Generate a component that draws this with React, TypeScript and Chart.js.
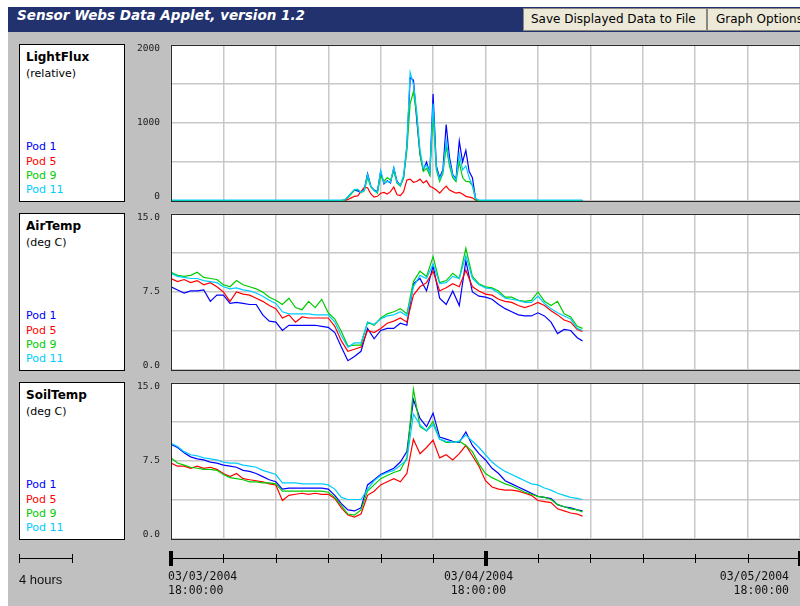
import React, { useEffect, useRef } from "react";
import { Chart, registerables } from "chart.js";
Chart.register(...registerables);

// ---------------- data ----------------
const podNames = ["Pod 1", "Pod 5", "Pod 9", "Pod 11"];
const podColors = ["#0000ff", "#ff0000", "#00cc00", "#00ccff"];

// hours since 03/03/2004 18:00:00
const lightHours = [0, 2, 4, 6, 8, 10, 12, 13, 13.25, 13.5, 13.75, 14, 14.25, 14.5, 14.75, 15, 15.25, 15.5, 15.75, 16, 16.25, 16.5, 16.75, 17, 17.25, 17.5, 17.75, 18, 18.25, 18.5, 18.75, 19, 19.25, 19.5, 19.75, 20, 20.25, 20.5, 20.75, 21, 21.25, 21.5, 21.75, 22, 22.25, 22.5, 22.75, 23, 23.25, 23.5, 24, 26, 28, 30, 31.4];
const lightPod1 = [5, 5, 5, 5, 5, 5, 5, 5, 10, 50, 100, 140, 130, 110, 150, 350, 190, 140, 120, 380, 220, 260, 230, 420, 250, 200, 300, 700, 1580, 1550, 1050, 600, 400, 500, 350, 1370, 450, 300, 400, 980, 560, 340, 280, 770, 500, 650, 380, 300, 20, 5, 5, 5, 5, 5, 5];
const lightPod5 = [3, 3, 3, 3, 3, 3, 3, 3, 5, 20, 40, 60, 65, 120, 175, 170, 90, 50, 60, 100, 110, 90, 120, 180, 80, 70, 120, 270, 280, 240, 250, 280, 230, 260, 190, 170, 140, 100, 150, 190, 140, 120, 100, 110, 90, 60, 50, 40, 10, 3, 3, 3, 3, 3, 3];
const lightPod9 = [5, 5, 5, 5, 5, 5, 5, 5, 10, 45, 90, 140, 150, 110, 130, 300, 180, 140, 100, 320, 250, 300, 270, 380, 230, 190, 300, 650, 1250, 1400, 1100, 600, 380, 420, 330, 1100, 400, 250, 350, 700, 450, 300, 250, 500, 300, 250, 250, 200, 15, 5, 5, 5, 5, 5, 5];
const lightPod11 = [12, 12, 12, 12, 12, 12, 12, 12, 15, 55, 100, 150, 150, 110, 140, 340, 190, 130, 110, 390, 230, 250, 240, 430, 240, 200, 330, 720, 1650, 1500, 1150, 660, 420, 460, 360, 1250, 420, 280, 380, 770, 500, 330, 270, 600, 400, 450, 300, 200, 30, 12, 12, 12, 12, 12, 12];

const tempHours = [0, 0.5, 1, 1.5, 2, 2.5, 3, 3.5, 4, 4.5, 5, 5.5, 6, 6.5, 7, 7.5, 8, 8.5, 9, 9.5, 10, 10.5, 11, 11.5, 12, 12.5, 13, 13.5, 14, 14.5, 15, 15.5, 16, 16.5, 17, 17.5, 18, 18.5, 19, 19.5, 20, 20.5, 21, 21.5, 22, 22.5, 23, 23.5, 24, 24.5, 25, 25.5, 26, 26.5, 27, 27.5, 28, 28.5, 29, 29.5, 30, 30.5, 31, 31.4];

const airPod1 = [8.0, 7.7, 7.4, 7.6, 7.6, 7.7, 6.6, 7.2, 7.2, 6.4, 6.5, 6.4, 6.3, 6.3, 5.3, 4.7, 4.6, 3.8, 4.3, 4.3, 4.3, 4.3, 4.3, 4.2, 4.1, 3.6, 2.2, 0.9, 1.3, 1.8, 4.0, 3.0, 3.8, 4.0, 4.0, 4.5, 4.3, 8.3, 8.8, 7.6, 10.0, 6.9, 6.3, 7.6, 6.2, 10.5, 7.5, 7.1, 7.0, 6.8, 6.3, 5.9, 5.6, 5.3, 5.2, 5.2, 5.5, 5.2, 4.6, 3.5, 3.9, 3.8, 3.1, 2.8];
const airPod5 = [8.8, 8.5, 8.7, 8.4, 8.6, 8.2, 8.4, 8.0, 7.5, 6.6, 7.5, 7.3, 7.2, 6.9, 6.6, 6.2, 5.9, 5.0, 5.3, 4.6, 5.1, 5.0, 5.0, 5.0, 5.0, 4.2, 2.8, 1.8, 2.0, 2.2, 3.8, 3.6, 4.0, 4.5, 4.7, 5.0, 4.6, 7.2, 8.0, 8.4, 9.5, 7.6, 7.9, 8.3, 8.0, 9.6, 8.0, 7.6, 7.3, 7.2, 6.8, 6.6, 6.5, 6.2, 6.0, 6.2, 6.5, 6.2, 5.7, 5.3, 4.8, 4.6, 3.9, 3.7];
const airPod9 = [9.4, 9.1, 9.0, 9.1, 9.4, 8.9, 8.8, 8.7, 8.2, 8.0, 8.6, 8.2, 8.0, 7.8, 7.5, 7.0, 6.7, 6.3, 6.9, 6.0, 5.8, 6.6, 6.0, 6.8, 5.5, 4.9, 3.7, 2.3, 2.4, 2.4, 4.6, 4.3, 5.0, 5.4, 5.6, 5.9, 5.4, 8.5, 9.5, 9.0, 10.9, 8.4, 8.6, 9.3, 8.8, 11.7, 9.0, 8.3, 8.0, 7.9, 7.6, 7.0, 7.0, 6.7, 6.6, 6.7, 7.5, 6.6, 6.2, 6.6, 5.4, 5.1, 4.2, 4.0];
const airPod11 = [9.3, 9.0, 8.9, 8.8, 8.8, 8.6, 8.5, 8.4, 8.0, 7.8, 7.9, 7.7, 7.6, 7.4, 7.1, 6.7, 6.4, 5.6, 5.4, 5.4, 5.4, 5.4, 5.3, 5.3, 5.3, 4.6, 3.3, 2.2, 2.6, 2.6, 4.6, 4.4, 4.9, 5.2, 5.3, 5.6, 5.2, 8.0, 9.1, 8.8, 10.2, 8.3, 8.4, 9.0, 8.8, 11.0, 8.8, 8.2, 7.9, 7.8, 7.4, 6.9, 6.8, 6.7, 6.5, 6.5, 7.1, 6.4, 5.9, 5.5, 5.2, 4.9, 4.0, 3.8];

const soilPod1 = [9.1, 8.8, 8.3, 7.9, 7.7, 7.6, 7.4, 7.3, 7.1, 7.0, 6.9, 6.6, 6.5, 6.3, 6.0, 5.7, 5.5, 4.8, 4.9, 4.9, 4.9, 4.9, 4.9, 4.9, 4.8, 4.2, 3.4, 2.8, 2.7, 3.0, 5.2, 5.7, 6.2, 6.5, 6.8, 7.4, 8.4, 13.4, 11.6, 10.8, 12.1, 9.8, 9.6, 9.4, 9.3, 10.3, 9.0, 8.2, 7.6, 6.8, 6.3, 5.6, 5.3, 5.0, 4.7, 4.4, 4.1, 4.0, 3.9, 3.3, 3.1, 3.0, 2.8, 2.7];
const soilPod5 = [7.3, 7.0, 7.0, 6.8, 7.0, 6.8, 6.9, 6.7, 6.3, 6.0, 6.3, 5.8, 5.7, 5.6, 5.5, 5.3, 5.2, 3.7, 4.2, 4.3, 4.4, 4.3, 4.4, 4.3, 4.3, 3.9, 3.0, 2.3, 2.1, 2.4, 4.2, 4.6, 5.2, 5.5, 5.8, 5.5, 6.3, 9.6, 8.2, 8.8, 9.5, 7.8, 8.1, 7.6, 8.2, 9.0, 8.0, 7.0, 5.6, 5.0, 4.8, 4.7, 4.7, 4.6, 4.4, 4.2, 3.7, 3.6, 3.5, 2.9, 2.7, 2.5, 2.4, 2.2];
const soilPod9 = [7.8, 7.3, 7.1, 6.9, 6.8, 6.7, 6.7, 6.6, 6.2, 5.9, 5.8, 5.7, 5.5, 5.5, 5.4, 5.4, 5.3, 4.6, 4.6, 4.6, 4.6, 4.6, 4.6, 4.6, 4.5, 4.0, 3.2, 2.4, 2.3, 2.8, 4.6, 5.2, 5.8, 6.1, 6.4, 6.6, 7.8, 14.4, 10.8, 10.4, 11.3, 9.6, 9.3, 9.3, 9.4, 9.0, 8.4, 7.2, 6.3, 5.9, 5.6, 5.3, 5.1, 4.8, 4.5, 4.3, 4.1, 4.0, 3.8, 3.3, 3.1, 2.9, 2.8, 2.6];
const soilPod11 = [9.2, 8.9, 8.4, 8.1, 8.0, 7.8, 7.7, 7.6, 7.4, 7.3, 7.3, 7.1, 7.0, 6.9, 6.6, 6.4, 6.2, 5.4, 5.4, 5.4, 5.3, 5.3, 5.3, 5.3, 5.2, 4.8, 4.0, 3.8, 3.8, 3.8, 4.8, 5.6, 6.1, 6.4, 6.6, 7.1, 7.6, 12.0, 11.0, 10.4, 11.0, 9.6, 9.4, 9.3, 9.4, 10.0, 9.4, 8.8, 8.1, 7.4, 6.9, 6.5, 6.2, 5.9, 5.6, 5.3, 5.2, 4.9, 4.7, 4.4, 4.2, 4.0, 3.9, 3.8];

const lightYLabelValues = [0, 1000, 2000];
const lightYLabelTexts = ["0", "1000", "2000"];
const tempYLabelValues = [0, 7.5, 15];
const tempYLabelTexts = ["0.0", "7.5", "15.0"];

const timelineTickHours = [0, 4, 8, 12, 16, 20, 24, 28, 32, 36, 40, 44, 48];
const timelineMajorHours = [0, 24, 48];
const timelineDates = ["03/03/2004", "03/04/2004", "03/05/2004"];
const timelineTimes = ["18:00:00", "18:00:00", "18:00:00"];
const scaleBarHours = 4;
const scaleBarLabel = "4 hours";

// ---------------- helpers ----------------
const X_MAX = 48;
const GRID = { color: "#c8c8c8", lineWidth: 1.5, drawTicks: false };

const plotFramePlugin = {
  id: "plotFrame",
  beforeDraw(chart: any) {
    const { ctx, chartArea: a } = chart;
    ctx.save();
    ctx.fillStyle = "#ffffff";
    ctx.fillRect(a.left, a.top, a.right - a.left, a.bottom - a.top);
    ctx.restore();
  },
  afterDraw(chart: any) {
    const { ctx, chartArea: a } = chart;
    ctx.save();
    ctx.strokeStyle = "#2a2a2a";
    ctx.lineWidth = 1;
    ctx.strokeRect(a.left + 0.5, a.top + 0.5, a.right - a.left, a.bottom - a.top);
    ctx.restore();
  },
};

function makeYLabelPlugin(values: number[], texts: string[]) {
  return {
    id: "yLabelsInline",
    afterDraw(chart: any) {
      const { ctx, chartArea: a } = chart;
      const y = chart.scales.y;
      ctx.save();
      ctx.font = '9.5px "DejaVu Sans Mono"';
      ctx.fillStyle = "#202020";
      ctx.textAlign = "right";
      ctx.textBaseline = "middle";
      y.ticks.forEach((t: any) => {
        const idx = values.findIndex((v) => Math.abs(v - t.value) < 1e-6);
        if (idx < 0) return;
        let py = y.getPixelForValue(t.value);
        py = Math.min(Math.max(py, a.top + 4), a.bottom - 4);
        ctx.fillText(texts[idx], a.left - 11, py);
      });
      ctx.restore();
    },
  };
}

type PanelProps = {
  top: number;
  title: string;
  unit: string;
  hours: number[];
  series: number[][];
  yMax: number;
  yStep: number;
  labelValues: number[];
  labelTexts: string[];
};

const textFont = '"DejaVu Sans", sans-serif';

function Panel(p: PanelProps) {
  const ref = useRef<HTMLCanvasElement | null>(null);
  useEffect(() => {
    if (!ref.current) return;
    const datasets = p.series.map((s, i) => ({
      label: podNames[i],
      data: p.hours.map((h, j) => ({ x: h, y: s[j] })),
      borderColor: podColors[i],
      backgroundColor: podColors[i],
      borderWidth: 1.2,
      pointRadius: 0,
      tension: 0,
      fill: false,
      order: p.series.length - 1 - i,
    }));
    const chart = new Chart(ref.current, {
      type: "line",
      data: { datasets } as any,
      options: {
        animation: false,
        responsive: false,
        maintainAspectRatio: false,
        events: [],
        layout: { padding: { top: 6, bottom: 6, left: 0, right: 2 } },
        plugins: { legend: { display: false }, tooltip: { enabled: false } },
        scales: {
          x: {
            type: "linear",
            min: 0,
            max: X_MAX,
            ticks: { display: false, stepSize: 4 },
            grid: GRID,
            border: { display: false },
            afterFit: (s: any) => {
              s.height = 0;
            },
          },
          y: {
            type: "linear",
            min: 0,
            max: p.yMax,
            ticks: { display: false, stepSize: p.yStep },
            grid: GRID,
            border: { display: false },
            afterFit: (s: any) => {
              s.width = 43;
            },
          },
        },
      } as any,
      plugins: [plotFramePlugin, makeYLabelPlugin(p.labelValues, p.labelTexts)],
    });
    return () => chart.destroy();
  }, []);

  const bt = p.top - 1;
  const podOffsets = [103, 118, 132, 146];
  return (
    <>
      <div
        style={{
          position: "absolute",
          left: 19,
          top: bt,
          width: 106,
          height: 158,
          boxSizing: "border-box",
          border: "1px solid #000",
          background: "#fff",
        }}
      />
      <div style={{ position: "absolute", left: 26, top: bt + 13 - 7, lineHeight: "14px", font: `bold 12px ${textFont}`, color: "#000" }}>
        {p.title}
      </div>
      <div style={{ position: "absolute", left: 26, top: bt + 30 - 7, lineHeight: "14px", font: `11px ${textFont}`, color: "#000" }}>
        {p.unit}
      </div>
      {podNames.map((n, i) => (
        <div
          key={n}
          style={{ position: "absolute", left: 26, top: bt + podOffsets[i] - 7, lineHeight: "14px", font: `11px ${textFont}`, color: podColors[i] }}
        >
          {n}
        </div>
      ))}
      <canvas ref={ref} width={674} height={168} style={{ position: "absolute", left: 128, top: p.top - 6, width: 674, height: 168 }} />
    </>
  );
}

function Timeline() {
  const ref = useRef<HTMLCanvasElement | null>(null);
  useEffect(() => {
    if (!ref.current) return;
    const timelinePlugin = {
      id: "timelineInline",
      afterDraw(chart: any) {
        const { ctx } = chart;
        const xs = chart.scales.x;
        const lineY = 13.5;
        ctx.save();
        ctx.strokeStyle = "#000";
        ctx.fillStyle = "#000";
        ctx.lineWidth = 1;
        ctx.beginPath();
        ctx.moveTo(xs.getPixelForValue(0), lineY);
        ctx.lineTo(xs.getPixelForValue(X_MAX), lineY);
        timelineTickHours.forEach((h) => {
          const px = Math.round(xs.getPixelForValue(h)) + 0.5;
          ctx.moveTo(px, lineY - 4.5);
          ctx.lineTo(px, lineY + 4.5);
        });
        const barStart = 11.5;
        const barLen = xs.getPixelForValue(scaleBarHours) - xs.getPixelForValue(0);
        const barEnd = Math.round(barStart + barLen) + 0.5;
        ctx.moveTo(barStart, lineY);
        ctx.lineTo(barEnd, lineY);
        ctx.moveTo(barStart, lineY - 4.5);
        ctx.lineTo(barStart, lineY + 4.5);
        ctx.moveTo(barEnd, lineY - 4.5);
        ctx.lineTo(barEnd, lineY + 4.5);
        ctx.stroke();
        timelineMajorHours.forEach((h) => {
          const px = Math.round(xs.getPixelForValue(h));
          ctx.fillRect(px - 2, lineY - 7.5, 4, 15);
        });
        ctx.font = '11.5px "DejaVu Sans Mono"';
        ctx.fillStyle = "#111";
        ctx.textBaseline = "middle";
        const aligns: CanvasTextAlign[] = ["left", "center", "right"];
        const dx = [-3, -7, -11];
        timelineMajorHours.forEach((h, i) => {
          const px = xs.getPixelForValue(h) + dx[i];
          ctx.textAlign = aligns[i];
          ctx.fillText(timelineDates[i], px, 32);
          ctx.fillText(timelineTimes[i], px, 46);
        });
        ctx.font = '13px "Liberation Sans"';
        ctx.textAlign = "left";
        ctx.fillText(scaleBarLabel, 11, 35);
        ctx.restore();
      },
    };
    const chart = new Chart(ref.current, {
      type: "line",
      data: { datasets: [] },
      options: {
        animation: false,
        responsive: false,
        maintainAspectRatio: false,
        events: [],
        layout: { padding: { top: 0, bottom: 0, left: 163, right: 2 } },
        plugins: { legend: { display: false }, tooltip: { enabled: false } },
        scales: {
          x: {
            type: "linear",
            min: 0,
            max: X_MAX,
            ticks: { display: false },
            grid: { display: false },
            border: { display: false },
            afterFit: (s: any) => {
              s.height = 0;
            },
          },
          y: {
            type: "linear",
            min: 0,
            max: 1,
            ticks: { display: false },
            grid: { display: false },
            border: { display: false },
            afterFit: (s: any) => {
              s.width = 0;
            },
          },
        },
      } as any,
      plugins: [timelinePlugin],
    });
    return () => chart.destroy();
  }, []);
  return <canvas ref={ref} width={794} height={61} style={{ position: "absolute", left: 8, top: 545, width: 794, height: 61 }} />;
}

const buttonStyle: React.CSSProperties = {
  position: "absolute",
  top: 8,
  height: 23,
  boxSizing: "border-box",
  background: "#ece9d8",
  border: "1px solid #8a887c",
  font: `12px ${textFont}`,
  color: "#000",
  lineHeight: "21px",
  whiteSpace: "nowrap",
};

export default function App() {
  return (
    <div style={{ position: "fixed", left: 0, top: 0, width: 800, height: 606, overflow: "hidden", background: "#fff" }}>
      <div style={{ position: "absolute", left: 8, top: 7, width: 792, height: 25, background: "#22326e" }} />
      <div
        style={{
          position: "absolute",
          left: 17,
          top: 7,
          height: 25,
          lineHeight: "25px",
          color: "#fff",
          font: `italic bold 13.5px ${textFont}`,
          whiteSpace: "nowrap",
        }}
      >
        Sensor Webs Data Applet, version 1.2
      </div>
      <div style={{ ...buttonStyle, left: 523, width: 184, paddingLeft: 7 }}>Save Displayed Data to File</div>
      <div style={{ ...buttonStyle, left: 707, width: 110, paddingLeft: 8 }}>Graph Options</div>
      <div style={{ position: "absolute", left: 8, top: 32, width: 792, height: 574, background: "#c0c0c0" }} />
      <Panel
        top={45}
        title="LightFlux"
        unit="(relative)"
        hours={lightHours}
        series={[lightPod1, lightPod5, lightPod9, lightPod11]}
        yMax={2000}
        yStep={500}
        labelValues={lightYLabelValues}
        labelTexts={lightYLabelTexts}
      />
      <Panel
        top={214}
        title="AirTemp"
        unit="(deg C)"
        hours={tempHours}
        series={[airPod1, airPod5, airPod9, airPod11]}
        yMax={15}
        yStep={3.75}
        labelValues={tempYLabelValues}
        labelTexts={tempYLabelTexts}
      />
      <Panel
        top={383}
        title="SoilTemp"
        unit="(deg C)"
        hours={tempHours}
        series={[soilPod1, soilPod5, soilPod9, soilPod11]}
        yMax={15}
        yStep={3.75}
        labelValues={tempYLabelValues}
        labelTexts={tempYLabelTexts}
      />
      <Timeline />
    </div>
  );
}
